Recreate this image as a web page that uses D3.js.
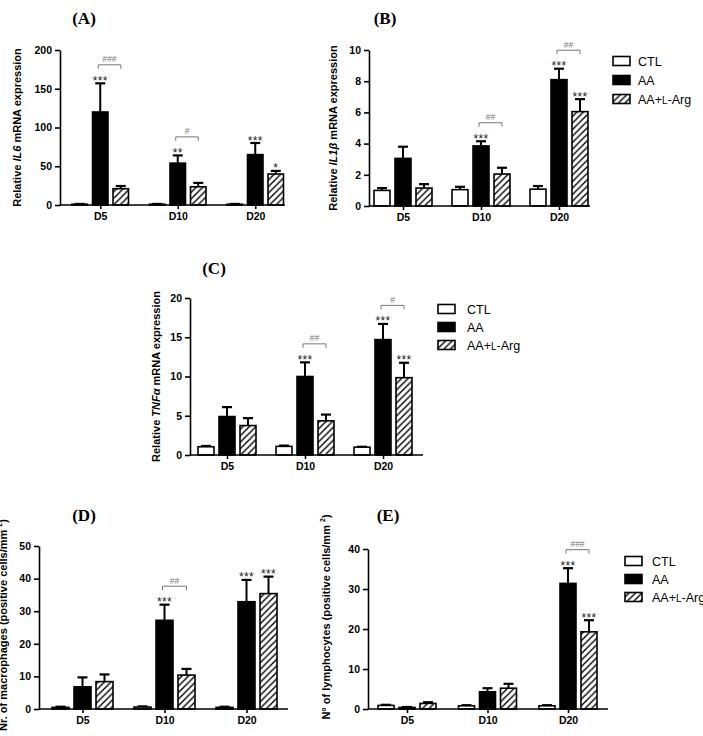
<!DOCTYPE html>
<html><head><meta charset="utf-8">
<script src="https://cdn.jsdelivr.net/npm/d3@7"></script>
<style>body{margin:0;background:#fff}</style>
</head><body>
<svg id="chart" width="703" height="736"></svg>
<script>
// ---------- DATA ----------
const days = ["D5", "D10", "D20"];
const seriesKeys = ["CTL", "AA", "AAArg"];

// (A) IL6
const il6CTL = [1, 1, 1],        il6CTLsem = [0.4, 0.4, 0.4];
const il6AA = [120, 54, 65],     il6AAsem = [37, 10, 15];
const il6Arg = [21, 23.5, 40],   il6Argsem = [3.5, 5, 4];
const il6Ticks = [0, 50, 100, 150, 200];

// (B) IL1beta
const il1CTL = [1.0, 1.05, 1.08], il1CTLsem = [0.15, 0.18, 0.2];
const il1AA = [3.05, 3.85, 8.1],  il1AAsem = [0.75, 0.3, 0.7];
const il1Arg = [1.15, 2.05, 6.05], il1Argsem = [0.25, 0.4, 0.8];
const il1Ticks = [0, 2, 4, 6, 8, 10];

// (C) TNFalpha
const tnfCTL = [1.05, 1.1, 1.0],  tnfCTLsem = [0.1, 0.1, 0.05];
const tnfAA = [4.9, 10.0, 14.7],  tnfAAsem = [1.2, 1.8, 2.0];
const tnfArg = [3.75, 4.35, 9.85], tnfArgsem = [0.95, 0.8, 1.9];
const tnfTicks = [0, 5, 10, 15, 20];

// (D) macrophages
const macCTL = [0.5, 0.6, 0.5],   macCTLsem = [0.2, 0.2, 0.2];
const macAA = [6.8, 27.2, 32.9],  macAAsem = [2.9, 4.8, 6.7];
const macArg = [8.4, 10.4, 35.4], macArgsem = [2.2, 1.9, 5.2];
const macTicks = [0, 10, 20, 30, 40, 50];

// (E) lymphocytes
const lymCTL = [0.9, 0.8, 0.8],   lymCTLsem = [0.15, 0.15, 0.15];
const lymAA = [0.4, 4.3, 31.4],   lymAAsem = [0.1, 0.9, 3.8];
const lymArg = [1.4, 5.2, 19.3],  lymArgsem = [0.3, 1.1, 2.9];
const lymTicks = [0, 10, 20, 30, 40];

// significance marks: [day, series, label]
const il6Stars = [["D5","AA","***"],["D10","AA","**"],["D20","AA","***"],["D20","AAArg","*"]];
const il6Hash = [["D5","###"],["D10","#"]];
const il1Stars = [["D10","AA","***"],["D20","AA","***"],["D20","AAArg","***"]];
const il1Hash = [["D10","##"],["D20","##"]];
const tnfStars = [["D10","AA","***"],["D20","AA","***"],["D20","AAArg","***"]];
const tnfHash = [["D10","##"],["D20","#"]];
const macStars = [["D10","AA","***"],["D20","AA","***"],["D20","AAArg","***"]];
const macHash = [["D10","##"]];
const lymStars = [["D20","AA","***"],["D20","AAArg","***"]];
const lymHash = [["D20","###"]];

// ---------- LAYOUT ----------
const panels = [
  { title: "(A)", titleX: 84, titleY: 24,
    ylabel: [["Relative ",false],["IL6",true],[" mRNA expression",false]], ylabX: 21,
    ymax: 200, ticks: il6Ticks,
    vals: {CTL: il6CTL, AA: il6AA, AAArg: il6Arg}, sems: {CTL: il6CTLsem, AA: il6AAsem, AAArg: il6Argsem},
    stars: il6Stars, hashes: il6Hash,
    L: {ax: 60, xEnd: 285, yTop: 50, yZero: 205, firstLeft: 72, gStep: 77.5, iStep: 20.5, bw: 15.5},
    legend: null },
  { title: "(B)", titleX: 385, titleY: 24,
    ylabel: [["Relative ",false],["IL1\u03B2",true],[" mRNA expression",false]], ylabX: 337,
    ymax: 10, ticks: il1Ticks,
    vals: {CTL: il1CTL, AA: il1AA, AAArg: il1Arg}, sems: {CTL: il1CTLsem, AA: il1AAsem, AAArg: il1Argsem},
    stars: il1Stars, hashes: il1Hash,
    L: {ax: 369, xEnd: 590, yTop: 50, yZero: 206, firstLeft: 374, gStep: 78, iStep: 21, bw: 16},
    legend: {x: 613, y: 61, dy: 19, tx: 638} },
  { title: "(C)", titleX: 214, titleY: 274,
    ylabel: [["Relative ",false],["TNF\u03B1",true],[" mRNA expression",false]], ylabX: 160,
    ymax: 20, ticks: tnfTicks,
    vals: {CTL: tnfCTL, AA: tnfAA, AAArg: tnfArg}, sems: {CTL: tnfCTLsem, AA: tnfAAsem, AAArg: tnfArgsem},
    stars: tnfStars, hashes: tnfHash,
    L: {ax: 190, xEnd: 423, yTop: 298, yZero: 455, firstLeft: 198, gStep: 78, iStep: 21, bw: 16},
    legend: {x: 438, y: 309, dy: 18, tx: 467} },
  { title: "(D)", titleX: 84, titleY: 521,
    ylabel: [["Nr. of macrophages (positive cells/mm ",false],["2","sup"],[")",false]], ylabX: 7, ylabY: 625,
    ymax: 50, ticks: macTicks,
    vals: {CTL: macCTL, AA: macAA, AAArg: macArg}, sems: {CTL: macCTLsem, AA: macAAsem, AAArg: macArgsem},
    stars: macStars, hashes: macHash,
    L: {ax: 39, xEnd: 288, yTop: 546, yZero: 709, firstLeft: 52, gStep: 82, iStep: 22, bw: 17},
    legend: null },
  { title: "(E)", titleX: 388, titleY: 521,
    ylabel: [["N\u00B0 of lymphocytes (positive cells/mm ",false],["2","sup"],[")",false]], ylabX: 330, ylabY: 617,
    ymax: 40, ticks: lymTicks,
    vals: {CTL: lymCTL, AA: lymAA, AAArg: lymArg}, sems: {CTL: lymCTLsem, AA: lymAAsem, AAArg: lymArgsem},
    stars: lymStars, hashes: lymHash,
    L: {ax: 368, xEnd: 608, yTop: 549, yZero: 709, firstLeft: 378, gStep: 80.5, iStep: 21, bw: 16},
    legend: {x: 625, y: 561, dy: 18, tx: 652} }
];

const SANS = "'Liberation Sans', Arial, Helvetica, sans-serif";
const SERIF = "'Liberation Serif', 'Times New Roman', serif";
const svg = d3.select("#chart");
svg.append("rect").attr("width", 703).attr("height", 736).attr("fill", "#fff");

// hatch pattern
const defs = svg.append("defs");
const pat = defs.append("pattern").attr("id", "hatch").attr("patternUnits", "userSpaceOnUse")
  .attr("width", 6.5).attr("height", 6.5);
pat.append("rect").attr("width", 6.5).attr("height", 6.5).attr("fill", "#fff");
pat.append("path").attr("d", "M-1,1 L1,-1 M0,6.5 L6.5,0 M5.5,7.5 L7.5,5.5")
  .attr("stroke", "#000").attr("stroke-width", 1.4);

const fills = {CTL: "#fff", AA: "#000", AAArg: "url(#hatch)"};

panels.forEach(p => {
  const L = p.L;
  const g = svg.append("g");
  const y = d3.scaleLinear().domain([0, p.ymax]).range([L.yZero, L.yTop]);
  const c0 = L.firstLeft + L.iStep + L.bw / 2;
  const xc = d3.scalePoint().domain(days).range([c0, c0 + 2 * L.gStep]);
  const xi = d3.scaleBand().domain(seriesKeys)
    .range([-L.iStep - L.bw / 2, L.iStep + L.bw / 2])
    .paddingInner((L.iStep - L.bw) / L.iStep).paddingOuter(0);

  // bars
  seriesKeys.forEach(s => {
    days.forEach((d, i) => {
      const v = p.vals[s][i], e = p.sems[s][i];
      const bx = xc(d) + xi(s);
      const cx = bx + L.bw / 2;
      g.append("line").attr("x1", cx).attr("x2", cx).attr("y1", y(v)).attr("y2", y(v + e))
        .attr("stroke", "#000").attr("stroke-width", 2);
      g.append("line").attr("x1", cx - 5).attr("x2", cx + 5).attr("y1", y(v + e)).attr("y2", y(v + e))
        .attr("stroke", "#000").attr("stroke-width", 2.2);
      g.append("rect").attr("x", bx).attr("y", y(v)).attr("width", L.bw)
        .attr("height", Math.max(0, y(0) - y(v)))
        .attr("fill", fills[s]).attr("stroke", "#000").attr("stroke-width", 1.6);
    });
  });

  // y axis
  const ya = g.append("g").attr("transform", `translate(${L.ax},0)`)
    .call(d3.axisLeft(y).tickValues(p.ticks).tickSize(5).tickSizeOuter(0).tickPadding(3));
  ya.select(".domain").attr("stroke-width", 1.6);
  ya.selectAll(".tick line").attr("stroke-width", 1.6);
  ya.selectAll("text").attr("font-family", SANS).attr("font-weight", "bold").attr("font-size", 10.5).attr("fill", "#000");

  // x axis
  g.append("line").attr("x1", L.ax).attr("x2", L.xEnd).attr("y1", L.yZero).attr("y2", L.yZero)
    .attr("stroke", "#000").attr("stroke-width", 1.6);
  const xa = g.append("g").attr("transform", `translate(0,${L.yZero})`)
    .call(d3.axisBottom(xc).tickSize(4).tickSizeOuter(0).tickPadding(4));
  xa.select(".domain").remove();
  xa.selectAll(".tick line").attr("stroke-width", 1.6);
  xa.selectAll("text").attr("font-family", SANS).attr("font-weight", "bold").attr("font-size", 10.5).attr("fill", "#000");

  // significance stars
  p.stars.forEach(([d, s, lab]) => {
    const i = days.indexOf(d);
    const top = y(p.vals[s][i] + p.sems[s][i]);
    g.append("text").attr("x", xc(d) + xi(s) + L.bw / 2).attr("y", top + 1.5)
      .attr("text-anchor", "middle").attr("font-family", SANS).attr("font-size", 12)
      .attr("letter-spacing", 0.4).attr("fill", "#222").text(lab);
  });
  // brackets
  p.hashes.forEach(([d, lab]) => {
    const i = days.indexOf(d);
    const top = y(p.vals.AA[i] + p.sems.AA[i]);
    const yb = top - 18.5;
    const x1 = xc(d) + xi("AA") + L.bw / 2 - 2, x2 = xc(d) + xi("AAArg") + L.bw / 2;
    g.append("path").attr("d", `M${x1},${yb + 4}V${yb}H${x2}V${yb + 4}`)
      .attr("fill", "none").attr("stroke", "#777").attr("stroke-width", 1);
    g.append("text").attr("x", (x1 + x2) / 2).attr("y", yb - 2.5).attr("text-anchor", "middle")
      .attr("font-family", SANS).attr("font-size", 8.5).attr("fill", "#777").text(lab);
  });

  // title
  g.append("text").attr("x", p.titleX).attr("y", p.titleY).attr("text-anchor", "middle")
    .attr("font-family", SERIF).attr("font-weight", "bold").attr("font-size", 17).text(p.title);

  // y label
  const ly = p.ylabY !== undefined ? p.ylabY : (L.yTop + L.yZero) / 2;
  const yl = g.append("text").attr("transform", `translate(${p.ylabX},${ly}) rotate(-90)`)
    .attr("text-anchor", "middle").attr("font-family", SANS).attr("font-weight", "bold")
    .attr("font-size", 11).attr("fill", "#000");
  p.ylabel.forEach(([t, st]) => {
    const ts = yl.append("tspan").text(t);
    if (st === true) ts.attr("font-style", "italic");
    if (st === "sup") ts.attr("font-size", 7).attr("dy", -5);
    if (t === ")") ts.attr("dy", 5);
  });

  // legend
  if (p.legend) {
    const lg = p.legend;
    seriesKeys.forEach((s, k) => {
      const cy = lg.y + k * lg.dy;
      g.append("rect").attr("x", lg.x).attr("y", cy - 4.5).attr("width", 17).attr("height", 9)
        .attr("fill", fills[s]).attr("stroke", "#000").attr("stroke-width", 1.6);
      const t = g.append("text").attr("x", lg.tx).attr("y", cy + 4.5)
        .attr("font-family", SANS).attr("font-size", 12.5).attr("fill", "#000");
      if (s === "AAArg") {
        t.append("tspan").text("AA+");
        t.append("tspan").attr("font-size", 10).text("L");
        t.append("tspan").text("-Arg");
      } else {
        t.text(s);
      }
    });
  }
});
</script>
</body></html>
